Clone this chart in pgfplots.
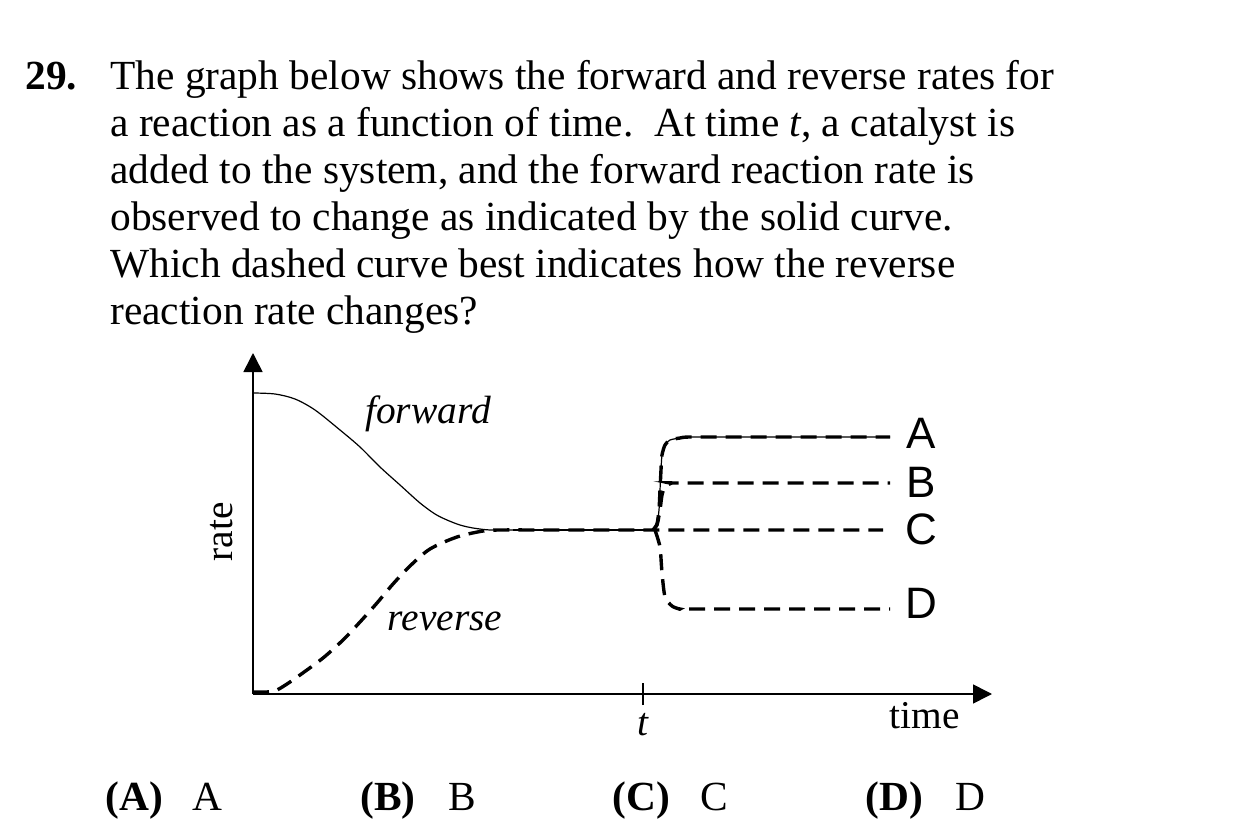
\documentclass[border=0pt]{standalone}
\usepackage{pgfplots}
\pgfplotsset{compat=1.18}
\usetikzlibrary{arrows.meta}
\usepackage{fontspec}
\setmainfont{Liberation Serif}
\newfontfamily\abcd{Liberation Sans}
\begin{document}
\begin{tikzpicture}
\begin{scope}[x=0.5pt,y=-0.5pt]
\useasboundingbox (0,0) rectangle (1238,829);
\fill[white] (0,0) rectangle (1238,829);
\tikzset{qt/.style={anchor=base west,inner sep=0pt,font=\fontsize{20.7pt}{24pt}\selectfont}}
\node[qt] at (25,90) {\textbf{29.}};
\node[qt] at (110,90) {The graph below shows the forward and reverse rates for};
\node[qt] at (110,136.8) {a reaction as a function of time.\ \ At time \textit{t}, a catalyst is};
\node[qt] at (110,183.6) {added to the system, and the forward reaction rate is};
\node[qt] at (110,230.4) {observed to change as indicated by the solid curve.};
\node[qt] at (110,277.2) {Which dashed curve best indicates how the reverse};
\node[qt] at (110,324) {reaction rate changes?};
\node[qt] at (105,810) {\textbf{(A)}};
\node[qt] at (192,810) {A};
\node[qt] at (360,810) {\textbf{(B)}};
\node[qt] at (448,810) {B};
\node[qt] at (612,810) {\textbf{(C)}};
\node[qt] at (700,810) {C};
\node[qt] at (865,810) {\textbf{(D)}};
\node[qt] at (955,810) {D};
\tikzset{lb/.style={inner sep=0pt,font=\fontsize{19.7pt}{22pt}\selectfont}}
\node[lb,anchor=base] at (428,423) {\textit{forward}};
\node[lb,anchor=base] at (445,630) {\textit{reverse}};
\node[lb,rotate=90] at (222,532) {rate};
\node[lb,anchor=base] at (925,728) {time};
\node[lb,anchor=base] at (643,735) {\textit{t}};
\tikzset{ab/.style={inner sep=0pt,font=\abcd\fontsize{22pt}{24pt}\selectfont}}
\node[ab] at (921,433) {A};
\node[ab] at (921,482) {B};
\node[ab] at (921,529) {C};
\node[ab] at (921,603) {D};
\end{scope}
\begin{axis}[
  at={(126.5pt,-347pt)}, anchor=south west,
  scale only axis, width=369.5pt, height=170.5pt,
  xmin=0, xmax=739, ymin=0, ymax=341,
  enlargelimits=false, clip=false,
  axis lines=left,
  axis line style={line width=0.8pt,-{Triangle[length=9.5pt,width=9.5pt]}},
  xtick={390}, xticklabels={}, ytick=\empty,
  tick align=center, major tick length=11pt,
  tick style={line width=0.6pt,black},
]
% forward (solid)
\addplot[black,line width=0.6pt,smooth,tension=0.5] coordinates {
(0,301) (22,300) (42,295) (62,284) (87,264) (107,247) (127,227) (147,209)
(167,191) (182,180) (194,174) (207,169) (220,166) (237,164) (260,164)};
\addplot[black,line width=0.6pt] coordinates {(260,164) (397,164)};
\addplot[black,line width=0.6pt,smooth,tension=0.4] coordinates {
(397,164) (401,165) (404,170) (406,184) (407,204) (408,224) (409,239)
(412,249) (417,254) (427,256) (437,257) (500,257) (637,257)};
% reverse (dashed) continuing as C
\addplot[black,line width=1.7pt,dash pattern=on 8pt off 4.5pt,smooth,tension=0.5] coordinates {
(0,2) (14,2) (24,4) (37,12) (47,19) (70,36) (90,54) (107,72) (124,91)
(140,110) (157,128) (177,145) (204,157) (230,163) (247,164) (300,164) (400,164) (630,164)};
% A
\addplot[black,line width=1.7pt,dash pattern=on 8pt off 4.5pt,smooth,tension=0.4] coordinates {
(400,164) (404,170) (406,184) (407,204) (408,224) (409,239)
(412,249) (417,254) (427,256) (437,257) (500,257) (637,257)};
% B
\addplot[black,line width=1.7pt,dash pattern=on 8pt off 4.5pt,smooth,tension=0.4] coordinates {
(400,164) (404,169) (407,184) (409,199) (412,207) (419,211) (430,211) (637,211)};
% D
\addplot[black,line width=1.7pt,dash pattern=on 8pt off 4.5pt,smooth,tension=0.4] coordinates {
(402,164) (407,147) (409,121) (412,97) (419,88) (427,85) (440,85) (637,85)};
\end{axis}
\end{tikzpicture}
\end{document}
